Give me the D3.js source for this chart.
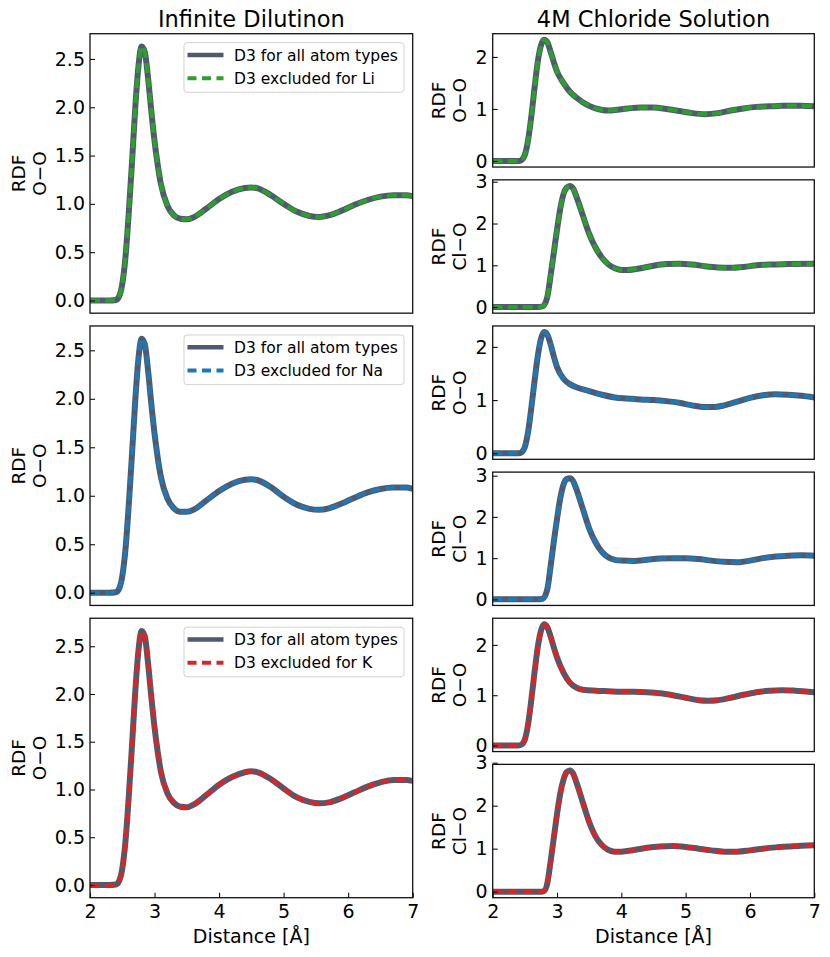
<!DOCTYPE html>
<html lang="en">
<head>
    <meta charset="utf-8">
    <script src="https://d3js.org/d3.v7.min.js"></script>
    <style>
        body { margin: 0; background: white; }
        svg { font-family: "DejaVu Sans", sans-serif; }
    </style>
</head>
<body>
    <svg id="chart" width="830" height="957"></svg>

    <script>
        // ---- data: [distance, g(r)] ----
        // infinite dilution, O-O
        const ooLiDilute = [[2.0,0],[2.3,0],[2.4,0.005],[2.45,0.04],[2.5,0.17],[2.55,0.45],[2.6,0.9],[2.65,1.42],[2.7,1.98],[2.75,2.42],[2.8,2.63],[2.85,2.57],[2.9,2.3],[2.95,1.96],[3.0,1.65],[3.05,1.4],[3.1,1.2],[3.2,0.98],[3.3,0.88],[3.4,0.845],[3.5,0.84],[3.6,0.86],[3.8,0.95],[4.0,1.05],[4.2,1.125],[4.4,1.165],[4.5,1.17],[4.6,1.16],[4.8,1.09],[5.0,1.0],[5.2,0.92],[5.4,0.875],[5.55,0.865],[5.7,0.88],[5.9,0.93],[6.1,0.99],[6.3,1.04],[6.5,1.075],[6.7,1.09],[6.9,1.09],[7.0,1.08]];
        const ooNaDilute = [[2.0,0],[2.3,0],[2.4,0.005],[2.45,0.04],[2.5,0.17],[2.55,0.45],[2.6,0.9],[2.65,1.42],[2.7,1.97],[2.75,2.41],[2.8,2.62],[2.85,2.56],[2.9,2.29],[2.95,1.95],[3.0,1.64],[3.05,1.39],[3.1,1.19],[3.2,0.97],[3.3,0.87],[3.4,0.835],[3.5,0.835],[3.6,0.855],[3.8,0.95],[4.0,1.05],[4.2,1.125],[4.4,1.165],[4.5,1.17],[4.6,1.16],[4.8,1.09],[5.0,0.99],[5.2,0.91],[5.4,0.865],[5.55,0.855],[5.7,0.87],[5.9,0.92],[6.1,0.98],[6.3,1.035],[6.5,1.07],[6.7,1.085],[6.9,1.085],[7.0,1.07]];
        const ooKDilute = [[2.0,0],[2.3,0],[2.4,0.005],[2.45,0.04],[2.5,0.17],[2.55,0.46],[2.6,0.92],[2.65,1.45],[2.7,2.01],[2.75,2.45],[2.8,2.66],[2.85,2.6],[2.9,2.32],[2.95,1.97],[3.0,1.65],[3.05,1.39],[3.1,1.18],[3.2,0.96],[3.3,0.86],[3.4,0.82],[3.5,0.815],[3.6,0.84],[3.8,0.94],[4.0,1.05],[4.2,1.13],[4.4,1.18],[4.5,1.19],[4.6,1.18],[4.8,1.11],[5.0,1.01],[5.2,0.92],[5.4,0.87],[5.55,0.855],[5.7,0.865],[5.9,0.91],[6.1,0.97],[6.3,1.03],[6.5,1.075],[6.7,1.1],[6.9,1.1],[7.0,1.09]];

        // 4M chloride solution, O-O and Cl-O
        const ooLi4M = [[2.0,0],[2.4,0],[2.45,0.02],[2.5,0.12],[2.55,0.4],[2.6,0.85],[2.65,1.4],[2.7,1.9],[2.75,2.22],[2.8,2.33],[2.85,2.28],[2.9,2.1],[2.95,1.9],[3.0,1.72],[3.1,1.5],[3.2,1.33],[3.3,1.22],[3.4,1.13],[3.5,1.06],[3.6,1.01],[3.7,0.98],[3.8,0.97],[3.9,0.98],[4.1,1.01],[4.3,1.03],[4.5,1.03],[4.7,1.0],[4.9,0.96],[5.1,0.92],[5.3,0.9],[5.5,0.92],[5.7,0.97],[5.9,1.01],[6.1,1.04],[6.3,1.05],[6.5,1.06],[6.8,1.06],[7.0,1.05]];
        const clLi4M = [[2.0,0],[2.7,0],[2.78,0.02],[2.85,0.25],[2.9,0.75],[2.95,1.3],[3.0,1.85],[3.05,2.35],[3.1,2.7],[3.15,2.86],[3.2,2.9],[3.25,2.84],[3.3,2.65],[3.4,2.2],[3.5,1.75],[3.6,1.42],[3.7,1.18],[3.8,1.02],[3.9,0.93],[4.0,0.89],[4.1,0.89],[4.3,0.93],[4.5,0.99],[4.7,1.03],[4.9,1.04],[5.1,1.02],[5.3,0.98],[5.5,0.95],[5.7,0.94],[5.9,0.96],[6.1,1.0],[6.3,1.02],[6.6,1.03],[7.0,1.04]];
        const ooNa4M = [[2.0,0],[2.4,0],[2.45,0.02],[2.5,0.12],[2.55,0.4],[2.6,0.85],[2.65,1.35],[2.7,1.82],[2.75,2.15],[2.8,2.28],[2.85,2.23],[2.9,2.05],[2.95,1.82],[3.0,1.62],[3.1,1.4],[3.2,1.3],[3.3,1.24],[3.5,1.17],[3.7,1.1],[3.9,1.05],[4.1,1.03],[4.3,1.01],[4.5,1.0],[4.7,0.98],[4.9,0.95],[5.1,0.9],[5.3,0.87],[5.45,0.87],[5.6,0.9],[5.8,0.97],[6.0,1.04],[6.2,1.09],[6.4,1.11],[6.6,1.1],[6.8,1.08],[7.0,1.05]];
        const clNa4M = [[2.0,0],[2.7,0],[2.78,0.02],[2.85,0.25],[2.9,0.8],[2.95,1.4],[3.0,1.95],[3.05,2.45],[3.1,2.78],[3.15,2.92],[3.2,2.94],[3.25,2.87],[3.3,2.68],[3.4,2.2],[3.5,1.72],[3.6,1.38],[3.7,1.15],[3.8,1.02],[3.9,0.96],[4.0,0.94],[4.2,0.93],[4.4,0.96],[4.6,0.99],[4.8,1.0],[5.0,1.0],[5.2,0.98],[5.4,0.94],[5.6,0.91],[5.8,0.9],[6.0,0.94],[6.2,1.0],[6.4,1.04],[6.6,1.06],[6.8,1.07],[7.0,1.06]];
        const ooK4M = [[2.0,0],[2.4,0],[2.45,0.02],[2.5,0.12],[2.55,0.42],[2.6,0.9],[2.65,1.45],[2.7,1.95],[2.75,2.28],[2.8,2.41],[2.85,2.35],[2.9,2.17],[2.95,1.95],[3.0,1.75],[3.1,1.45],[3.2,1.25],[3.3,1.15],[3.4,1.11],[3.6,1.09],[3.8,1.08],[4.0,1.07],[4.2,1.07],[4.4,1.06],[4.6,1.04],[4.8,1.0],[5.0,0.95],[5.2,0.9],[5.35,0.89],[5.5,0.9],[5.7,0.95],[5.9,1.01],[6.1,1.06],[6.3,1.09],[6.5,1.1],[6.7,1.09],[7.0,1.06]];
        const clK4M = [[2.0,0],[2.75,0],[2.8,0.02],[2.85,0.2],[2.9,0.7],[2.95,1.25],[3.0,1.8],[3.05,2.28],[3.1,2.6],[3.15,2.78],[3.2,2.82],[3.25,2.75],[3.3,2.55],[3.4,2.08],[3.5,1.62],[3.6,1.28],[3.7,1.08],[3.8,0.97],[3.9,0.93],[4.0,0.93],[4.2,0.97],[4.4,1.02],[4.6,1.05],[4.8,1.06],[5.0,1.04],[5.2,1.0],[5.4,0.96],[5.6,0.93],[5.8,0.93],[6.0,0.96],[6.2,1.0],[6.4,1.03],[6.6,1.05],[6.8,1.07],[7.0,1.08]];

        // labels and ticks
        const ions = ["Li", "Na", "K"];
        const ionColors = ["#2ca02c", "#1f77b4", "#d62728"];
        const columnTitles = ["Infinite Dilutinon", "4M Chloride Solution"];
        const legendLabels = ["D3 for all atom types", "D3 excluded for "];
        const xTicks = [2, 3, 4, 5, 6, 7];
        const leftYTicks = [0, 0.5, 1.0, 1.5, 2.0, 2.5];
        const ooYTicks = [0, 1, 2];
        const clYTicks = [0, 1, 2, 3];
        const xLabel = "Distance [Å]";

        const dilute = [ooLiDilute, ooNaDilute, ooKDilute];
        const conc = [[ooLi4M, clLi4M], [ooNa4M, clNa4M], [ooK4M, clK4M]];

        // ---- layout ----
        const svg = d3.select("#chart");
        const GRAY = "#505a6e";
        const DASH = "10,5";
        const plotTop = 33.7, plotBottom = 897.7, rowGap = 12.8;
        const rowH = (plotBottom - plotTop - 2 * rowGap) / 3;
        const subH = (rowH - rowGap) / 2;
        const leftCol = {x0: 90, x1: 412.7};
        const rightCol = {x0: 492.7, x1: 814.3};

        const line = (x, y) => d3.line()
            .x(d => x(d[0]))
            .y(d => y(d[1]))
            .curve(d3.curveMonotoneX);

        let clipId = 0;

        function drawPanel(box, data, color, opt) {
            const g = svg.append("g");
            const x = d3.scaleLinear().domain([2, 7]).range([box.x0, box.x1]);
            const maxY = d3.max(data, d => d[1]);
            const pad = 0.05 * maxY;
            const y = d3.scaleLinear().domain([-pad, maxY + pad]).range([box.y1, box.y0]);

            const id = "clip" + (clipId++);
            g.append("clipPath").attr("id", id)
                .append("rect")
                .attr("x", box.x0).attr("y", box.y0)
                .attr("width", box.x1 - box.x0).attr("height", box.y1 - box.y0);

            const lines = g.append("g").attr("clip-path", `url(#${id})`);
            lines.append("path")
                .attr("d", line(x, y)(data))
                .attr("fill", "none")
                .attr("stroke", GRAY)
                .attr("stroke-width", 6);
            lines.append("path")
                .attr("d", line(x, y)(data))
                .attr("fill", "none")
                .attr("stroke", color)
                .attr("stroke-width", 4)
                .attr("stroke-dasharray", DASH);

            // y axis, ticks pointing in
            const ya = g.append("g")
                .attr("transform", `translate(${box.x0},0)`)
                .call(d3.axisLeft(y).tickValues(opt.yTicks).tickFormat(opt.yFormat)
                    .tickSizeInner(-5).tickSizeOuter(0).tickPadding(5));
            styleAxis(ya);

            if (opt.showX) {
                const xa = g.append("g")
                    .attr("transform", `translate(0,${box.y1})`)
                    .call(d3.axisBottom(x).tickValues(xTicks).tickFormat(d3.format("d"))
                        .tickSizeInner(-5).tickSizeOuter(0).tickPadding(6.5));
                styleAxis(xa);
            }

            // frame
            g.append("rect")
                .attr("x", box.x0).attr("y", box.y0)
                .attr("width", box.x1 - box.x0).attr("height", box.y1 - box.y0)
                .attr("fill", "none")
                .attr("stroke", "#111")
                .attr("stroke-width", 1.3);

            // two-line y label
            const yc = (box.y0 + box.y1) / 2;
            const lab = g.append("text")
                .attr("transform", `translate(${opt.labelX},${yc}) rotate(-90)`)
                .attr("text-anchor", "middle")
                .attr("font-size", "18.5px")
                .attr("fill", "#000");
            lab.append("tspan").attr("x", 0).attr("y", 0).text("RDF");
            lab.append("tspan").attr("x", 0).attr("y", 20.5).text(opt.pair);

            if (opt.legend) drawLegend(g, box, color, opt.legend);
        }

        function styleAxis(a) {
            a.select(".domain").remove();
            a.selectAll(".tick line").attr("stroke", "#111").attr("stroke-width", 1.1);
            a.selectAll(".tick text").attr("font-size", "19px").attr("fill", "#000")
                .attr("font-family", "DejaVu Sans, sans-serif");
        }

        function drawLegend(g, box, color, ion) {
            const w = 220, h = 49.6;
            const lx = box.x1 - 8.7 - w, ly = box.y0 + 9;
            g.append("rect")
                .attr("x", lx).attr("y", ly)
                .attr("width", w).attr("height", h)
                .attr("rx", 3).attr("ry", 3)
                .attr("fill", "white").attr("fill-opacity", 0.8)
                .attr("stroke", "#d3d3d3").attr("stroke-width", 1);
            const rows = [
                {label: legendLabels[0], stroke: GRAY, width: 4.5, dash: null},
                {label: legendLabels[1] + ion, stroke: color, width: 4, dash: "9,5.5"}
            ];
            rows.forEach((r, i) => {
                const cy = ly + 12.3 + i * 23.3;
                g.append("line")
                    .attr("x1", lx + 3.5).attr("x2", lx + 39.5)
                    .attr("y1", cy).attr("y2", cy)
                    .attr("stroke", r.stroke)
                    .attr("stroke-width", r.width)
                    .attr("stroke-dasharray", r.dash);
                g.append("text")
                    .attr("x", lx + 50).attr("y", cy + 5.6)
                    .attr("font-size", "15.5px")
                    .attr("fill", "#000")
                    .text(r.label);
            });
        }

        // ---- draw ----
        ions.forEach((ion, i) => {
            const y0 = plotTop + i * (rowH + rowGap);
            const last = i === ions.length - 1;

            drawPanel({x0: leftCol.x0, x1: leftCol.x1, y0: y0, y1: y0 + rowH},
                dilute[i], ionColors[i],
                {yTicks: leftYTicks, yFormat: d3.format(".1f"), showX: last,
                 labelX: 25.3, pair: "O\u2212O", legend: ion});

            drawPanel({x0: rightCol.x0, x1: rightCol.x1, y0: y0, y1: y0 + subH},
                conc[i][0], ionColors[i],
                {yTicks: ooYTicks, yFormat: d3.format("d"), showX: false,
                 labelX: 445, pair: "O\u2212O"});

            drawPanel({x0: rightCol.x0, x1: rightCol.x1, y0: y0 + subH + rowGap, y1: y0 + rowH},
                conc[i][1], ionColors[i],
                {yTicks: clYTicks, yFormat: d3.format("d"), showX: last,
                 labelX: 445, pair: "Cl\u2212O"});
        });

        // column titles and x labels
        [leftCol, rightCol].forEach((c, i) => {
            const cx = (c.x0 + c.x1) / 2;
            svg.append("text")
                .attr("x", cx).attr("y", 26.5)
                .attr("text-anchor", "middle")
                .attr("font-size", "22.5px")
                .text(columnTitles[i]);
            svg.append("text")
                .attr("x", cx).attr("y", 943.3)
                .attr("text-anchor", "middle")
                .attr("font-size", "19px")
                .text(xLabel);
        });
    </script>
</body>
</html>
